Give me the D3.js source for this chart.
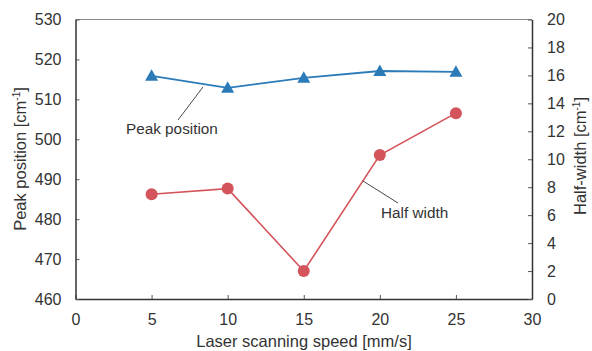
<!DOCTYPE html>
<html>
<head>
<meta charset="utf-8">
<script src="https://cdn.jsdelivr.net/npm/d3@7"></script>
<style>
  body { margin: 0; background: #fff; }
  text { font-family: "Liberation Sans", Arial, sans-serif; fill: #333; }
</style>
</head>
<body>
<script>
// scanning speed vs peak position (left axis) and half width (right axis)

var speeds = [5, 10, 15, 20, 25];
var peakPosition = [515.9, 512.9, 515.4, 517.1, 516.9];
var halfWidth = [7.5, 7.9, 2.0, 10.3, 13.3];

var xTicks = [0, 5, 10, 15, 20, 25, 30];
var leftTicks = [460, 470, 480, 490, 500, 510, 520, 530];
var rightTicks = [0, 2, 4, 6, 8, 10, 12, 14, 16, 18, 20];

var W = 592, H = 351;
var plotL = 75.5, plotR = 532, plotT = 19.5, plotB = 299;

var svg = d3.select('body')
  .append('svg')
  .attr('width', W)
  .attr('height', H);

var x = d3.scaleLinear().domain([0, 30]).range([plotL, plotR]);
var yL = d3.scaleLinear().domain([460, 530]).range([plotB, plotT]);
var yR = d3.scaleLinear().domain([0, 20]).range([plotB, plotT]);

// top frame line
svg.append('line')
  .attr('x1', plotL).attr('x2', plotR)
  .attr('y1', plotT).attr('y2', plotT)
  .attr('stroke', '#888').attr('stroke-width', 1.2);

function styleAxis(g) {
  g.select('.domain').attr('stroke', '#333').attr('stroke-width', 1.5);
  g.selectAll('.tick line').attr('stroke', '#555').attr('stroke-width', 1);
  g.selectAll('.tick text')
    .style('font-size', '16px')
    .style('font-family', '"Liberation Sans", Arial, sans-serif')
    .attr('fill', '#333');
}

var xAxis = d3.axisBottom(x).tickValues(xTicks).tickSize(-4).tickSizeOuter(0).tickPadding(15);
svg.append('g')
  .attr('transform', 'translate(0,' + plotB + ')')
  .call(xAxis)
  .call(styleAxis);

var lAxis = d3.axisLeft(yL).tickValues(leftTicks).tickSize(-4).tickSizeOuter(0).tickPadding(14);
svg.append('g')
  .attr('transform', 'translate(' + plotL + ',0)')
  .call(lAxis)
  .call(styleAxis);

var rAxis = d3.axisRight(yR).tickValues(rightTicks).tickSize(-4).tickSizeOuter(0).tickPadding(15);
svg.append('g')
  .attr('transform', 'translate(' + plotR + ',0)')
  .call(rAxis)
  .call(styleAxis);

// axis titles
svg.append('text')
  .attr('x', 304)
  .attr('y', 347)
  .attr('text-anchor', 'middle')
  .style('font-size', '16.5px')
  .text('Laser scanning speed [mm/s]');

var lt = svg.append('text')
  .attr('transform', 'translate(26,159) rotate(-90)')
  .attr('text-anchor', 'middle')
  .style('font-size', '16.5px');
lt.append('tspan').text('Peak position [cm');
lt.append('tspan').attr('dy', -6).style('font-size', '10px').text('-1');
lt.append('tspan').attr('dy', 6).text(']');

var rt = svg.append('text')
  .attr('transform', 'translate(586,156) rotate(-90)')
  .attr('text-anchor', 'middle')
  .style('font-size', '16.5px');
rt.append('tspan').text('Half-width [cm');
rt.append('tspan').attr('dy', -6).style('font-size', '10px').text('-1');
rt.append('tspan').attr('dy', 6).text(']');

var blue = '#2b7bb9', red = '#d3545a';

// half width series
var halfData = speeds.map(function (s, i) { return [s, halfWidth[i]]; });
svg.append('path')
  .datum(halfData)
  .attr('fill', 'none')
  .attr('stroke', red)
  .attr('stroke-width', 1.6)
  .attr('d', d3.line()
    .x(function (d) { return x(d[0]); })
    .y(function (d) { return yR(d[1]); }));

svg.selectAll('circle.hw')
  .data(halfData)
  .enter()
  .append('circle')
  .attr('class', 'hw')
  .attr('cx', function (d) { return x(d[0]); })
  .attr('cy', function (d) { return yR(d[1]); })
  .attr('r', 6)
  .attr('fill', red);

// peak position series
var peakData = speeds.map(function (s, i) { return [s, peakPosition[i]]; });
svg.append('path')
  .datum(peakData)
  .attr('fill', 'none')
  .attr('stroke', blue)
  .attr('stroke-width', 1.8)
  .attr('d', d3.line()
    .x(function (d) { return x(d[0]); })
    .y(function (d) { return yL(d[1]); }));

svg.selectAll('path.pk')
  .data(peakData)
  .enter()
  .append('path')
  .attr('class', 'pk')
  .attr('transform', function (d) {
    return 'translate(' + x(d[0]) + ',' + yL(d[1]) + ')';
  })
  .attr('d', 'M0,-6.5 L6.5,5 L-6.5,5 Z')
  .attr('fill', blue);

// callout labels
svg.append('line')
  .attr('x1', 178).attr('y1', 120)
  .attr('x2', 203).attr('y2', 87)
  .attr('stroke', '#333').attr('stroke-width', 0.9);
svg.append('text')
  .attr('x', 126).attr('y', 134)
  .style('font-size', '15.3px')
  .text('Peak position');

svg.append('line')
  .attr('x1', 363).attr('y1', 181)
  .attr('x2', 398).attr('y2', 203)
  .attr('stroke', '#333').attr('stroke-width', 0.9);
svg.append('text')
  .attr('x', 381).attr('y', 218)
  .style('font-size', '15.3px')
  .text('Half width');
</script>
</body>
</html>
